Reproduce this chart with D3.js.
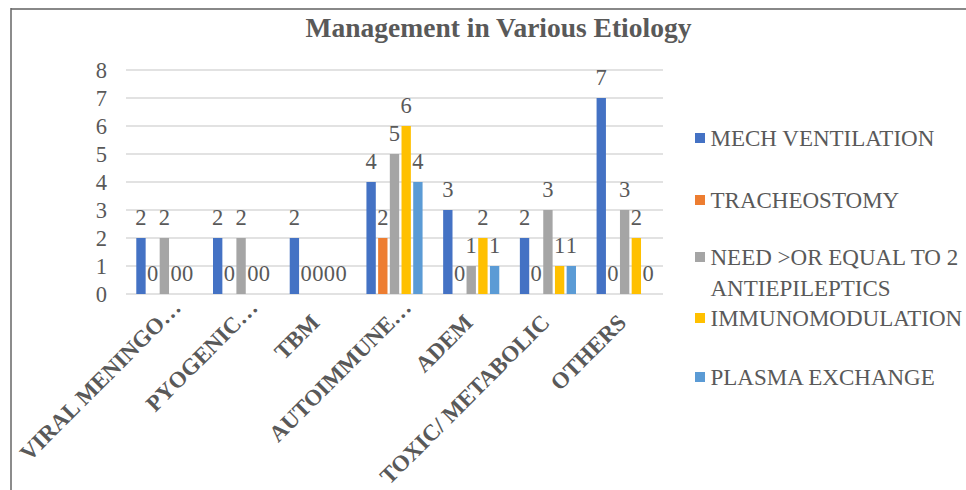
<!DOCTYPE html>
<html><head><meta charset="utf-8">
<script src="https://cdn.jsdelivr.net/npm/d3@7"></script>
<style>body{margin:0;background:#fff}svg{display:block} svg text{font-family:"Liberation Serif","Times New Roman",serif !important}</style>
</head><body>
<script>
const categories = ["VIRAL MENINGO…","PYOGENIC…","TBM","AUTOIMMUNE…","ADEM","TOXIC/ METABOLIC","OTHERS"];
const seriesNames = ["MECH VENTILATION","TRACHEOSTOMY","NEED >OR EQUAL TO 2 ANTIEPILEPTICS","IMMUNOMODULATION","PLASMA EXCHANGE"];
const mechVentilation = [2,2,2,4,3,2,7];
const tracheostomy    = [0,0,0,2,0,0,0];
const antiepileptics  = [2,2,0,5,1,3,3];
const immunomodulation= [0,0,0,6,2,1,2];
const plasmaExchange  = [0,0,0,4,1,1,0];
const yTicks = [0,1,2,3,4,5,6,7,8];
const colors = ["#4472C4","#ED7D31","#A5A5A5","#FFC000","#5B9BD5"];
const seriesValues = [mechVentilation,tracheostomy,antiepileptics,immunomodulation,plasmaExchange];

(function(){
const W=966,H=490;
const svg=d3.select("body").append("svg").attr("width",W).attr("height",H);
svg.append("rect").attr("width",W).attr("height",H).attr("fill","#fff");
// frame
svg.append("line").attr("x1",11).attr("x2",W).attr("y1",9).attr("y2",9).attr("stroke","#888").attr("stroke-width",2);
svg.append("line").attr("x1",11).attr("x2",11).attr("y1",8).attr("y2",H).attr("stroke","#666").attr("stroke-width",1.5);

const pLeft=126,pRight=663,pTop=70,pBottom=294;
const x0=d3.scaleBand().domain(categories).range([pLeft,pRight]).padding(0);
const x1=d3.scaleBand().domain(d3.range(5)).range([0,x0.bandwidth()]).paddingInner(0.2).paddingOuter(0.88);
const y=d3.scaleLinear().domain([0,8]).range([pBottom,pTop]);
const grey="#595959";

// gridlines
svg.append("g").selectAll("line").data(yTicks).join("line")
  .attr("x1",pLeft).attr("x2",pRight).attr("y1",d=>y(d)).attr("y2",d=>y(d))
  .attr("stroke","#D9D9D9").attr("stroke-width",1.3);

// y axis labels
const yAxis=d3.axisLeft(y).tickValues(yTicks).tickSize(0).tickPadding(0).tickFormat(d3.format("d"));
const gy=svg.append("g").attr("transform",`translate(${pLeft-19},0)`).call(yAxis);
gy.select(".domain").remove();
gy.selectAll("text").attr("fill",grey).style("font-size","22.5px").attr("dy","0.34em");

// bars
const groups=svg.append("g").selectAll("g").data(categories).join("g")
  .attr("transform",d=>`translate(${x0(d)},0)`);
groups.each(function(cat,ci){
  const g=d3.select(this);
  const vals=seriesValues.map((s,si)=>({si,v:s[ci]}));
  g.selectAll("rect").data(vals.filter(d=>d.v>0)).join("rect")
    .attr("x",d=>x1(d.si)).attr("width",x1.bandwidth())
    .attr("y",d=>y(d.v)).attr("height",d=>y(0)-y(d.v)).attr("fill",d=>colors[d.si]);
  g.selectAll("text").data(vals).join("text")
    .attr("x",d=>x1(d.si)+x1.bandwidth()/2).attr("y",d=>y(d.v)-13)
    .attr("text-anchor","middle").attr("fill",grey).style("font-size","22.5px").text(d=>d.v);
});

// x labels (truncated labels sit further along their baseline)
const xg=svg.append("g");
xg.selectAll("text").data(categories).join("text")
  .attr("transform",d=>{
    const s=d.endsWith("…")?15:0;
    return `translate(${x0(d)+x0.bandwidth()/2+3+s},${pBottom+30-s}) rotate(-45)`;})
  .attr("text-anchor","end").attr("fill",grey).style("font-size","23px").style("font-weight","bold")
  .text(d=>d);

// title
svg.append("text").attr("x",498.5).attr("y",37).attr("text-anchor","middle")
  .attr("fill",grey).style("font-size","27.5px").style("font-weight","bold").text("Management in Various Etiology");

// legend
const legY=[138,200,257,318,377];
const leg=svg.append("g").selectAll("g").data(seriesNames).join("g")
  .attr("transform",(d,i)=>`translate(695,${legY[i]})`);
leg.append("rect").attr("x",0).attr("y",-5).attr("width",10).attr("height",10).attr("fill",(d,i)=>colors[i]);
leg.each(function(d,i){
  const t=d3.select(this).append("text").attr("x",15.5).attr("y",0).attr("dy","0.36em")
    .attr("fill",grey).style("font-size","23px");
  if(i===2){
    t.append("tspan").attr("x",15.5).text("NEED >OR EQUAL TO 2");
    t.append("tspan").attr("x",15.5).attr("dy","1.33em").text("ANTIEPILEPTICS");
  } else t.text(d);
});
})();
</script>
</body></html>
